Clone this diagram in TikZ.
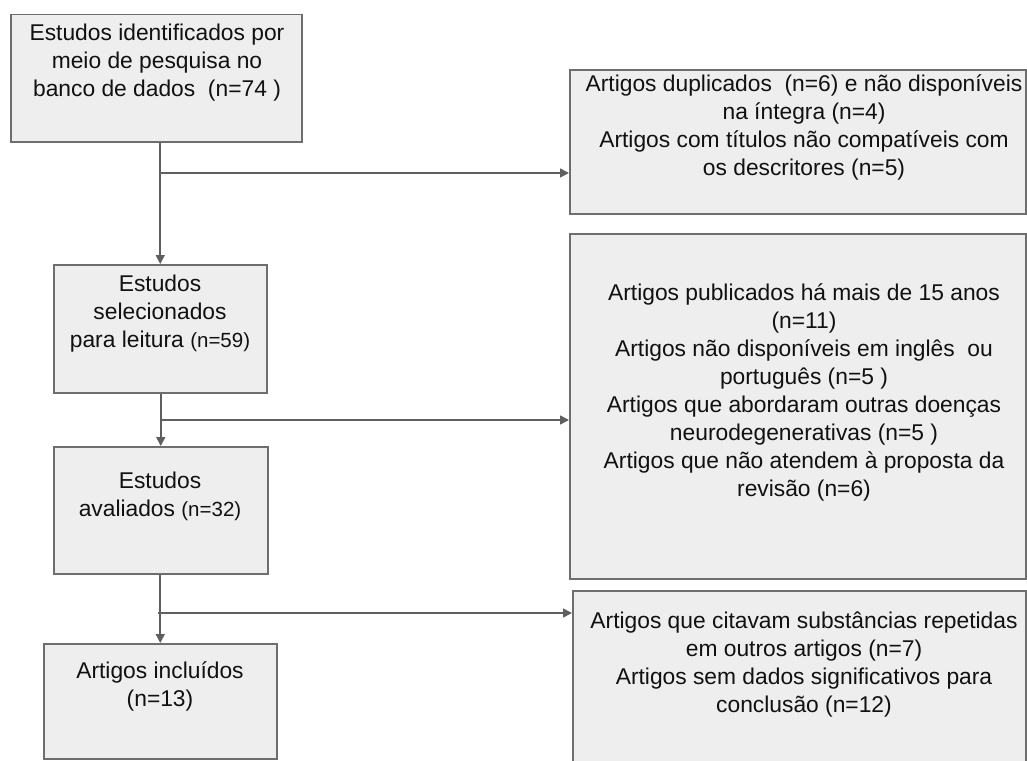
\documentclass[tikz,border=0pt]{standalone}
\usepackage{fontspec}
\setmainfont{Liberation Sans}
\usetikzlibrary{arrows.meta}
\definecolor{boxfill}{HTML}{EEEEEE}
\definecolor{boxborder}{HTML}{6E6E6E}
\definecolor{arrowcol}{HTML}{5F5F5F}
\definecolor{textcol}{HTML}{111111}
\begin{document}
\begin{tikzpicture}[x=1pt,y=-1pt,
 box/.style={draw=boxborder, fill=boxfill, line width=1.5pt, inner sep=0pt, anchor=north west},
 txt/.style={align=center, inner sep=0pt, anchor=north, text=textcol, font=\fontsize{22.8}{28}\selectfont},
 arr/.style={draw=arrowcol, line width=1.6pt, -{Triangle[length=9pt,width=9pt]}}]
\useasboundingbox (0,0) rectangle (1027,760);
\fill[white] (0,0) rectangle (1027,760);
% left column boxes
\node[box, minimum width=291pt, minimum height=127pt] (b1) at (10,14) {};
\node[box, minimum width=213pt, minimum height=128pt] (b2) at (53,264) {};
\node[box, minimum width=214pt, minimum height=127pt] (b3) at (53,446) {};
\node[box, minimum width=233pt, minimum height=115pt] (b4) at (43,643) {};
% right column boxes
\node[box, minimum width=456pt, minimum height=144pt] (r1) at (569,69) {};
\node[box, minimum width=456pt, minimum height=345pt] (r2) at (569,233) {};
\node[box, minimum width=453pt, minimum height=190pt] (r3) at (572,590) {};
% texts
\node[txt] (t1) at (157,24) {Estudos identificados por\\meio de pesquisa no\\banco de dados~ (n=74\ )};
\node[txt] (t2) at (160,275) {Estudos\\selecionados\\para leitura {\fontsize{20.5}{28}\selectfont(n=59)}};
\node[txt] (t3) at (160,472) {Estudos\\avaliados {\fontsize{20.5}{28}\selectfont(n=32)}};
\node[txt] (t4) at (160,662) {Artigos incluídos\\(n=13)};
\node[txt] (rt1) at (804,75) {Artigos duplicados~ (n=6) e não disponíveis\\na íntegra (n=4)\\Artigos com títulos não compatíveis com\\os descritores (n=5)};
\node[txt] (rt2) at (804,284) {Artigos publicados há mais de 15 anos\\(n=11)\\Artigos não disponíveis em inglês~ ou\\português (n=5\ )\\Artigos que abordaram outras doenças\\neurodegenerativas (n=5\ )\\Artigos que não atendem à proposta da\\revisão (n=6)};
\node[txt] (rt3) at (804,612) {Artigos que citavam substâncias repetidas\\em outros artigos (n=7)\\Artigos sem dados significativos para\\conclusão (n=12)};
% connectors
\coordinate (j1) at (160,173);
\coordinate (j2) at (160,420);
\coordinate (j3) at (158,613);
\draw[arr] (b2.north |- b1.south) -- (b2.north);
\draw[arr] (b3.north |- b2.south) -- (b3.north);
\draw[arr] (b4.north |- b3.south) -- (b4.north);
\draw[arr] (j1) -- (j1 -| r1.west);
\draw[arr] (j2) -- (j2 -| r2.west);
\draw[arr] (j3) -- (j3 -| r3.west);
\end{tikzpicture}
\end{document}
